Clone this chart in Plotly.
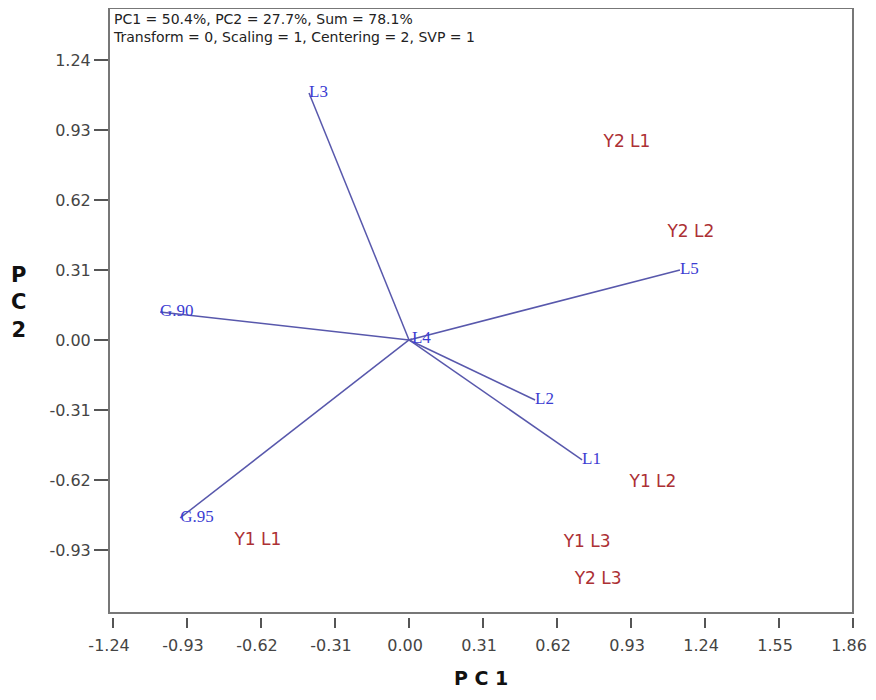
import plotly.graph_objects as go

# Tester / location vectors (blue)
vec_names = ["L1", "L2", "L3", "L4", "L5", "G.90", "G.95"]
vec_x = [0.725, 0.528, -0.419, 0.012, 1.135, -1.043, -0.959]
vec_y = [-0.531, -0.266, 1.094, 0.004, 0.310, 0.124, -0.788]

# Entry labels (red)
ent_names = ["Y1 L1", "Y1 L2", "Y1 L3", "Y2 L1", "Y2 L2", "Y2 L3"]
ent_x = [-0.633, 1.022, 0.746, 0.913, 1.181, 0.792]
ent_y = [-0.890, -0.633, -0.899, 0.872, 0.474, -1.063]

tick_vals = [-1.24, -0.93, -0.62, -0.31, 0.00, 0.31, 0.62, 0.93, 1.24, 1.55, 1.86]
ytick_vals = [-0.93, -0.62, -0.31, 0.00, 0.31, 0.62, 0.93, 1.24]

info_line1 = "PC1 = 50.4%, PC2 = 27.7%, Sum = 78.1%"
info_line2 = "Transform = 0, Scaling = 1, Centering = 2, SVP = 1"

fig = go.Figure()

lx, ly = [], []
for x, y in zip(vec_x, vec_y):
    lx += [0, x, None]
    ly += [0, y, None]
fig.add_trace(go.Scatter(x=lx, y=ly, mode="lines",
                         line=dict(color="rgb(88,88,172)", width=1.5),
                         hoverinfo="skip", showlegend=False))
fig.add_trace(go.Scatter(x=vec_x, y=vec_y, mode="text", text=vec_names,
                         textposition="middle right",
                         textfont=dict(family="Liberation Serif", size=17, color="rgb(60,60,210)"),
                         showlegend=False))
fig.add_trace(go.Scatter(x=ent_x, y=ent_y, mode="text", text=ent_names,
                         textposition="middle center",
                         textfont=dict(family="DejaVu Sans", size=17, color="rgb(172,48,52)"),
                         showlegend=False))

fig.update_layout(
    width=860, height=684,
    margin=dict(l=101, r=15, t=0, b=75),
    plot_bgcolor="white", paper_bgcolor="white",
    font=dict(family="DejaVu Sans", color="#333333"),
    xaxis=dict(range=[-1.257, 1.86], tickvals=tick_vals,
               ticktext=[f"{v:.2f}" for v in tick_vals],
               anchor="free", position=0,
               showgrid=False, zeroline=False, showline=False,
               ticks="outside", ticklen=10, tickcolor="#555555", tickwidth=2,
               ticklabelstandoff=4, ticklabelshift=-4,
               tickfont=dict(size=16, color="#444444")),
    yaxis=dict(range=[-1.209, 1.47], tickvals=ytick_vals,
               ticktext=[f"{v:.2f}" for v in ytick_vals],
               domain=[0.0066, 1],
               showgrid=False, zeroline=False, showline=False,
               ticks="outside", ticklen=14, tickcolor="#555555", tickwidth=2,
               tickfont=dict(size=16, color="#444444")),
    shapes=[dict(type="rect", xref="x domain", yref="y domain", x0=0, x1=1, y0=0, y1=1,
                 line=dict(color="#777777", width=2), layer="above")],
    annotations=[
        dict(xref="paper", yref="paper", x=0.003, y=0.998, xanchor="left", yanchor="top",
             text=info_line1 + "<br>" + info_line2, align="left", showarrow=False,
             font=dict(size=14, color="#222222")),
        dict(xref="paper", yref="paper", x=0.5, y=-0.1, xanchor="center", yanchor="middle",
             text="<b>P C 1</b>", showarrow=False,
             font=dict(size=19, color="#111111")),
        dict(xref="paper", x=-0.121, yref="y", y=0.164, xanchor="center", yanchor="middle",
             text="<b>P<br>C<br>2</b>", showarrow=False,
             font=dict(size=21, color="#111111")),
    ],
)

fig.write_html("out.html")
